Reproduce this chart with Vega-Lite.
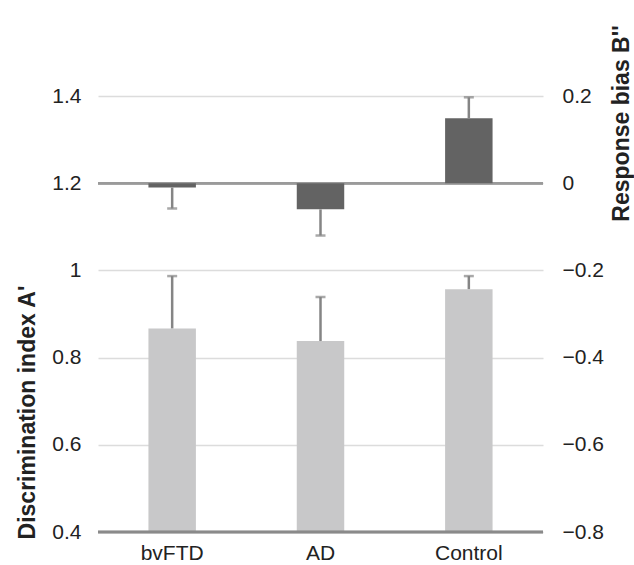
{
  "$schema": "https://vega.github.io/schema/vega-lite/v6.json",
  "width": 445,
  "height": 436,
  "autosize": {"type": "none"},
  "padding": {"left": 98, "top": 96, "right": 91, "bottom": 33},
  "config": {
    "view": {"stroke": null},
    "font": "Liberation Sans",
    "axis": {"labelFont": "Liberation Sans", "titleFont": "Liberation Sans", "labelColor": "#222", "titleColor": "#222"}
  },
  "data": {
    "values": [
      {"group": "bvFTD", "A": 0.867, "Ahi": 0.987, "B": -0.01, "Bend": -0.058},
      {"group": "AD", "A": 0.838, "Ahi": 0.939, "B": -0.06, "Bend": -0.12},
      {"group": "Control", "A": 0.957, "Ahi": 0.987, "B": 0.149, "Bend": 0.197}
    ]
  },
  "encoding": {
    "x": {
      "field": "group",
      "type": "nominal",
      "sort": ["bvFTD", "AD", "Control"],
      "scale": {"paddingInner": 0, "paddingOuter": 0},
      "axis": {"title": null, "labelAngle": 0, "labelFontSize": 21, "labelPadding": 10, "ticks": false, "domain": false}
    }
  },
  "layer": [
    {
      "encoding": {
        "y": {
          "type": "quantitative",
          "scale": {"domain": [0.4, 1.4], "zero": false, "nice": false},
          "axis": {
            "title": "Discrimination index A'",
            "titleFontSize": 23,
            "titleFontWeight": "bold",
            "titlePadding": 12,
            "titleY": 316,
            "values": [0.4, 0.6, 0.8, 1, 1.2, 1.4],
            "format": "~g",
            "labelFontSize": 21,
            "labelPadding": 17,
            "ticks": false,
            "domain": false,
            "grid": true,
            "gridColor": "#dcdcdc",
            "gridWidth": 1.5
          }
        }
      },
      "layer": [
        {
          "mark": {"type": "bar", "color": "#c8c8c9", "width": {"band": 0.32}},
          "encoding": {"y": {"field": "A", "type": "quantitative"}, "y2": {"datum": 0.4}}
        },
        {
          "mark": {"type": "rule", "color": "#858585", "strokeWidth": 2.5},
          "encoding": {"y": {"field": "A", "type": "quantitative"}, "y2": {"field": "Ahi"}}
        },
        {
          "mark": {"type": "tick", "color": "#858585", "orient": "horizontal", "size": 10, "thickness": 2.5},
          "encoding": {"y": {"field": "Ahi", "type": "quantitative"}}
        },
        {
          "mark": {"type": "rule", "color": "#9a9a9a", "strokeWidth": 2.5},
          "encoding": {"y": {"datum": 1.2}, "x": {"value": 0}, "x2": {"value": 445}}
        },
        {
          "mark": {"type": "rule", "color": "#8a8a8a", "strokeWidth": 2.5},
          "encoding": {"y": {"datum": 0.4}, "x": {"value": 0}, "x2": {"value": 445}}
        }
      ]
    },
    {
      "encoding": {
        "y": {
          "type": "quantitative",
          "scale": {"domain": [-0.8, 0.2], "zero": false, "nice": false},
          "axis": {
            "orient": "right",
            "title": "Response bias B''",
            "titleFontSize": 23,
            "titleFontWeight": "bold",
            "titleAngle": 270,
            "titleY": 27,
            "titlePadding": 30,
            "values": [-0.8, -0.6, -0.4, -0.2, 0, 0.2],
            "format": "~g",
            "labelFontSize": 21,
            "labelPadding": 19,
            "ticks": false,
            "domain": false,
            "grid": false
          }
        }
      },
      "layer": [
        {
          "mark": {"type": "bar", "color": "#636363", "width": {"band": 0.32}},
          "encoding": {"y": {"field": "B", "type": "quantitative"}, "y2": {"datum": 0}}
        },
        {
          "mark": {"type": "rule", "color": "#858585", "strokeWidth": 2.5},
          "encoding": {"y": {"field": "B", "type": "quantitative"}, "y2": {"field": "Bend"}}
        },
        {
          "mark": {"type": "tick", "color": "#858585", "orient": "horizontal", "size": 10, "thickness": 2.5},
          "encoding": {"y": {"field": "Bend", "type": "quantitative"}}
        }
      ]
    }
  ],
  "resolve": {"scale": {"y": "independent"}}
}
